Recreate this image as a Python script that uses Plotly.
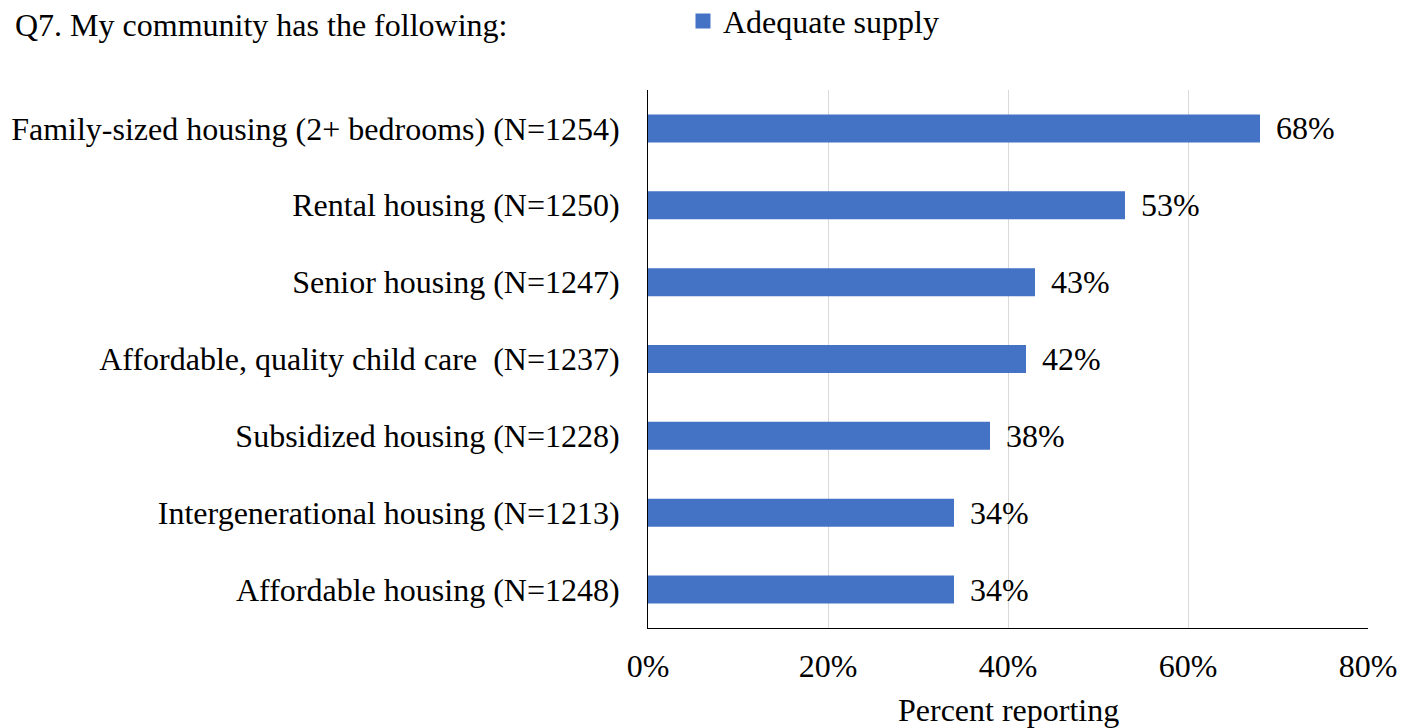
import plotly.graph_objects as go

categories = [
    "Family-sized housing (2+ bedrooms) (N=1254)",
    "Rental housing (N=1250)",
    "Senior housing (N=1247)",
    "Affordable, quality child care\u00a0 (N=1237)",
    "Subsidized housing (N=1228)",
    "Intergenerational housing (N=1213)",
    "Affordable housing (N=1248)",
]
values = [68, 53, 43, 42, 38, 34, 34]
x_ticks = [0, 20, 40, 60, 80]
x_tick_labels = ["0%", "20%", "40%", "60%", "80%"]
series_name = "Adequate supply"

FONT = "Liberation Serif, Times New Roman, serif"
BLUE = "#4472C4"

fig = go.Figure()
fig.add_trace(go.Bar(
    x=values, y=categories, orientation="h",
    marker=dict(color=BLUE, line=dict(width=0)),
    name=series_name, showlegend=False, legendgroup="s",
))
# legend entry with a larger square symbol
fig.add_trace(go.Scatter(
    x=[None], y=[None], mode="markers",
    marker=dict(symbol="square", size=15, color=BLUE),
    name=series_name, showlegend=True, legendgroup="s",
))

for c, v in zip(categories, values):
    fig.add_annotation(x=v, y=c, xref="x", yref="y", text=f"{v}%",
                       showarrow=False, xanchor="left", yanchor="middle",
                       xshift=14, font=dict(family=FONT, size=32, color="black"))

fig.add_annotation(x=0.5, y=-0.152, xref="paper", yref="paper",
                   text="Percent reporting", showarrow=False,
                   xanchor="center", yanchor="middle",
                   font=dict(family=FONT, size=32, color="black"))

fig.update_layout(
    width=1404, height=720,
    margin=dict(l=640, r=44, t=82, b=100, autoexpand=False),
    paper_bgcolor="white", plot_bgcolor="white",
    font=dict(family=FONT, size=32, color="black"),
    bargap=0.636,
    title=dict(text="Q7. My community has the following:", x=7/1404, xref="container",
               xanchor="left", y=1-17/720, yref="container", yanchor="middle",
               font=dict(family=FONT, size=32, color="black")),
    legend=dict(orientation="h", x=0.0486, y=1.128, xanchor="left", yanchor="middle",
                font=dict(family=FONT, size=32, color="black"),
                bgcolor="rgba(0,0,0,0)"),
    xaxis=dict(range=[0, 80], tickvals=x_ticks, ticktext=x_tick_labels,
               showgrid=True, gridcolor="#d9d9d9", gridwidth=1,
               showline=True, linecolor="black", linewidth=1,
               zeroline=False, ticks="", ticklabelstandoff=10, automargin=False),
    yaxis=dict(autorange="reversed", showline=True, linecolor="black", linewidth=1,
               showgrid=False, ticks="", ticklabelstandoff=21, automargin=False),
)

fig.write_html("out.html")
